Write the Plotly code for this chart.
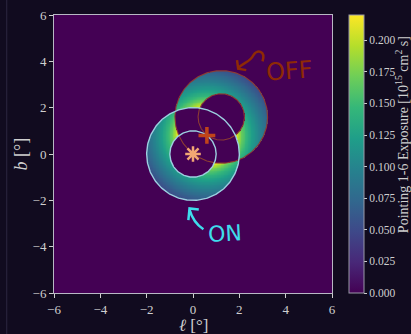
import numpy as np
import plotly.graph_objects as go

# Region geometry (degrees)
on_center = [0.0, 0.0]
off_center = [1.22, 1.6]
pointing = [0.6, 0.8]
ring_radii = [1.0, 2.0]

# Exposure profile vs. angular distance from the pointing direction
profile_dist = [0.0, 1.0, 1.22, 1.5, 1.75, 2.0, 2.25, 2.5, 2.75, 3.0, 3.25, 4.0]
profile_expo = [0.225, 0.222, 0.218, 0.168, 0.14, 0.118, 0.1, 0.083, 0.066, 0.05, 0.04, 0.02]

axis_ticks = [-6, -4, -2, 0, 2, 4, 6]
cbar_ticks = [0.0, 0.025, 0.05, 0.075, 0.1, 0.125, 0.15, 0.175, 0.2]

BG = "#110b1f"
FG = "#cfcfcf"
SERIF = "Liberation Serif, DejaVu Serif, serif"

# Exposure map restricted to the ON and OFF annuli (overlap and inner disks removed)
g = np.linspace(-6, 6, 361)
X, Y = np.meshgrid(g, g)
r_on = np.hypot(X - on_center[0], Y - on_center[1])
r_off = np.hypot(X - off_center[0], Y - off_center[1])
in_on = (r_on >= ring_radii[0]) & (r_on <= ring_radii[1])
in_off = (r_off >= ring_radii[0]) & (r_off <= ring_radii[1])
region = (in_on ^ in_off) & (r_on >= ring_radii[0]) & (r_off >= ring_radii[0])
d = np.hypot(X - pointing[0], Y - pointing[1])
Z = np.where(region, np.interp(d, profile_dist, profile_expo), 0.0)

fig = go.Figure()
fig.add_trace(go.Heatmap(
    x=g, y=g, z=Z, colorscale="Viridis", zmin=0, zmax=0.22,
    hoverinfo="skip",
    colorbar=dict(
        x=1.061, xanchor="left", y=0.5, yanchor="middle", len=1.0, lenmode="fraction",
        thickness=15, outlinewidth=1, outlinecolor="#9a9aa8", xpad=0, ypad=0,
        tickvals=cbar_ticks, tickformat=".3f", ticks="outside", ticklen=3,
        tickcolor=FG, tickfont=dict(family=SERIF, size=11.5, color=FG),
    ),
))

# Colour bar label
fig.add_annotation(x=1.252, y=0.568, xref="paper", yref="paper", xanchor="center", yanchor="middle",
                   text="Pointing 1-6 Exposure [10<sup>15</sup> cm<sup>2</sup> s]",
                   textangle=-90, showarrow=False,
                   font=dict(family=SERIF, size=14, color=FG))

# Axis labels
fig.add_annotation(x=0.5, y=-0.118, xref="paper", yref="paper", xanchor="center", yanchor="middle",
                   text="<i>ℓ</i> [°]", showarrow=False,
                   font=dict(family=SERIF, size=17, color=FG))
fig.add_annotation(x=-0.117, y=0.5, xref="paper", yref="paper", xanchor="center", yanchor="middle",
                   text="<i>b</i> [°]", textangle=-90, showarrow=False,
                   font=dict(family=SERIF, size=18, color=FG))

# Region boundaries
theta = np.linspace(0, 2 * np.pi, 241)
for r in ring_radii:
    fig.add_trace(go.Scatter(
        x=off_center[0] + r * np.cos(theta), y=off_center[1] + r * np.sin(theta),
        mode="lines", line=dict(color="#8c3c33", width=1.1), hoverinfo="skip", showlegend=False))
for r in ring_radii:
    fig.add_trace(go.Scatter(
        x=on_center[0] + r * np.cos(theta), y=on_center[1] + r * np.sin(theta),
        mode="lines", line=dict(color="#9ccfe0", width=1.4), hoverinfo="skip", showlegend=False))

# Source and pointing markers
fig.add_trace(go.Scatter(
    x=[on_center[0]], y=[on_center[1]], mode="markers",
    marker=dict(symbol="asterisk-open", size=13, color="#f2a673",
                line=dict(color="#f2a673", width=2.5)),
    hoverinfo="skip", showlegend=False))
fig.add_trace(go.Scatter(
    x=[pointing[0]], y=[pointing[1]], mode="markers",
    marker=dict(symbol="cross-thin-open", size=12, color="#c0441a",
                line=dict(color="#c0441a", width=3.5)),
    hoverinfo="skip", showlegend=False))

# Hand-drawn style labels
OFF_C = "#8e2a06"
ON_C = "#3fdcec"
fig.add_annotation(x=4.15, y=3.6, xref="x", yref="y", text="OFF", showarrow=False,
                   textangle=-4, font=dict(family="DejaVu Sans", size=24, color=OFF_C))
fig.add_shape(type="path", xref="x", yref="y",
              path="M 3.0,4.0 C 3.15,4.45 2.75,4.55 2.6,4.25 C 2.45,3.95 2.15,3.95 1.95,3.7",
              line=dict(color=OFF_C, width=2.5))
fig.add_shape(type="path", xref="x", yref="y",
              path="M 1.9,4.05 L 1.95,3.68 L 2.3,3.62",
              line=dict(color=OFF_C, width=2.5))
fig.add_annotation(x=1.4, y=-3.45, xref="x", yref="y", text="ON", showarrow=False,
                   textangle=-3, font=dict(family="DejaVu Sans", size=22, color=ON_C))
fig.add_shape(type="path", xref="x", yref="y",
              path="M 0.45,-3.25 C 0.15,-3.05 -0.05,-2.75 -0.15,-2.4",
              line=dict(color=ON_C, width=2.5))
fig.add_shape(type="path", xref="x", yref="y",
              path="M -0.2,-2.85 L -0.15,-2.35 L 0.25,-2.4",
              line=dict(color=ON_C, width=2.5))

# Faint frame line at the left edge of the canvas
fig.add_shape(type="line", xref="paper", yref="paper", x0=-0.17, x1=-0.17, y0=-0.15, y1=1.06,
              line=dict(color="#2c2640", width=1))

axis_common = dict(
    range=[-6, 6], tickvals=axis_ticks, ticks="outside", ticklen=4, tickcolor=FG,
    showline=True, linecolor="#b8b8c4", linewidth=1, mirror=True,
    showgrid=False, zeroline=False, automargin=False,
    tickfont=dict(family=SERIF, size=13, color=FG),
)
fig.update_xaxes(**axis_common)
fig.update_yaxes(**axis_common)

fig.update_layout(
    width=411, height=334,
    margin=dict(l=54, r=79, t=15, b=41, autoexpand=False),
    paper_bgcolor=BG, plot_bgcolor="#440154",
    showlegend=False,
)

fig.write_html("out.html")
